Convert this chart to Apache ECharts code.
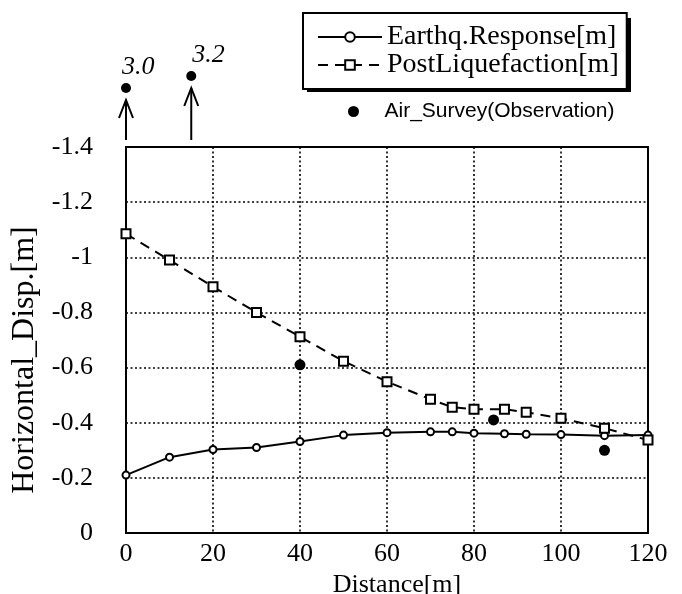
<!DOCTYPE html>
<html>
<head>
<meta charset="utf-8">
<script src="https://cdn.jsdelivr.net/npm/echarts@6/dist/echarts.min.js"></script>
<style>
  html, body { margin: 0; padding: 0; background: #fff; }
  #chart { width: 682px; height: 594px; }
</style>
</head>
<body>
<div id="chart"></div>
<script>
// distance along the section [m]
const distance = [0, 10, 20, 30, 40, 50, 60, 70, 75, 80, 87, 92, 100, 110, 120]
const earthqResponse = [-0.21, -0.275, -0.303, -0.31, -0.332, -0.355, -0.364, -0.367, -0.367, -0.362, -0.36, -0.358, -0.357, -0.353, -0.355]
const postLiquefaction = [-1.085, -0.99, -0.893, -0.8, -0.712, -0.623, -0.549, -0.485, -0.456, -0.449, -0.449, -0.438, -0.416, -0.38, -0.337]

// air survey observations inside the plotted range
const surveyX = [40, 84.5, 110]
const surveyY = [-0.61, -0.41, -0.3]

// observations off the scale (drawn above the frame with an arrow)
const offScaleX = [0, 15]
const offScaleValue = [3.0, 3.2]

const xTicks = { min: 0, max: 120, interval: 20 }
const yTicks = { min: -1.4, max: 0, interval: 0.2 }

const SERIF = 'Liberation Serif'
const SANS = 'Liberation Sans'

const pairs = (xs, ys) => xs.map((x, i) => [x, ys[i]])

const chart = echarts.init(document.getElementById('chart'), null, { renderer: 'canvas' })

const option = {
  backgroundColor: '#fff',
  animation: false,
  grid: {
    left: 126, right: 34, top: 147, bottom: 61,
    outerBoundsMode: 'none',
    show: true, borderColor: '#000', borderWidth: 2
  },
  // hard drop shadow behind the boxed legend
  graphic: [
    { type: 'rect', left: 307, top: 18, shape: { width: 324, height: 74 }, style: { fill: '#000' }, z: 0 }
  ],
  legend: [
    {
      orient: 'vertical',
      left: 303, top: 13,
      z: 5,
      data: ['Earthq.Response[m]', 'PostLiquefaction[m]'],
      itemWidth: 64, itemHeight: 12, itemGap: 0,
      padding: [10, 8, 10, 14],
      backgroundColor: '#fff',
      borderColor: '#000', borderWidth: 2,
      textStyle: { fontFamily: SERIF, fontSize: 28, color: '#000', lineHeight: 26 }
    },
    {
      left: 343, top: 96,
      data: ['Air_Survey(Observation)'],
      itemWidth: 52, itemHeight: 11,
      textStyle: { fontFamily: SANS, fontSize: 21, color: '#000' }
    }
  ],
  xAxis: {
    type: 'value',
    ...xTicks,
    name: 'Distance[m]',
    nameLocation: 'middle',
    nameGap: 34,
    nameTextStyle: { fontFamily: SERIF, fontSize: 26, color: '#000', padding: [0, 0, 0, 20] },
    axisLine: { show: false },
    axisTick: { show: false },
    axisLabel: { margin: 8, fontFamily: SERIF, fontSize: 26, color: '#000' },
    splitLine: { lineStyle: { color: '#000', type: [2, 2.5], width: 1.6 } }
  },
  yAxis: {
    type: 'value',
    inverse: true,
    ...yTicks,
    name: 'Horizontal_Disp.[m]',
    nameLocation: 'middle',
    nameGap: 84,
    nameTextStyle: { fontFamily: SERIF, fontSize: 32, color: '#000', padding: [0, 40, 0, 0] },
    axisLine: { show: false },
    axisTick: { show: false },
    axisLabel: { margin: 33, fontFamily: SERIF, fontSize: 26, color: '#000' },
    splitLine: { lineStyle: { color: '#000', type: [2, 2.5], width: 1.6 } }
  },
  series: [
    {
      name: 'Earthq.Response[m]',
      type: 'line',
      data: pairs(distance, earthqResponse),
      symbol: 'emptyCircle',
      symbolSize: 7,
      lineStyle: { color: '#000', width: 2 },
      itemStyle: { color: '#000', borderWidth: 1.5 },
      z: 3
    },
    {
      name: 'PostLiquefaction[m]',
      type: 'line',
      data: pairs(distance, postLiquefaction),
      symbol: 'emptyRect',
      symbolSize: 9,
      lineStyle: { color: '#000', width: 2, type: [10, 7] },
      itemStyle: { color: '#000', borderWidth: 1.5 },
      z: 3
    },
    {
      name: 'Air_Survey(Observation)',
      type: 'scatter',
      data: pairs(surveyX, surveyY),
      symbol: 'circle',
      symbolSize: 11,
      itemStyle: { color: '#000', opacity: 1 },
      z: 4
    },
    {
      // off-scale observations: arrow out of the frame, dot and value
      type: 'custom',
      data: pairs(offScaleX, offScaleValue),
      silent: true,
      renderItem (params, api) {
        const v = api.value(1)
        const top = api.coord([api.value(0), yTicks.min])
        const x = top[0]
        const base = top[1] - 7
        const tip = top[1] - 47 - (v - 3.0) * 60
        const dotY = tip - 12
        return {
          type: 'group',
          children: [
            { type: 'line', shape: { x1: x, y1: base, x2: x, y2: tip }, style: { stroke: '#000', lineWidth: 2 } },
            { type: 'polyline', shape: { points: [[x - 7, tip + 18], [x, tip], [x + 7, tip + 18]] }, style: { stroke: '#000', lineWidth: 2, fill: null } },
            { type: 'circle', shape: { cx: x, cy: dotY, r: 5 }, style: { fill: '#000' } },
            {
              type: 'text',
              x: x - 4 + (v - 3.0) * 25,
              y: dotY - 21,
              style: {
                text: v.toFixed(1),
                font: 'italic 26px "' + SERIF + '"',
                fill: '#000',
                align: 'left',
                verticalAlign: 'middle'
              }
            }
          ]
        }
      }
    }
  ]
}

chart.setOption(option)
</script>
</body>
</html>
